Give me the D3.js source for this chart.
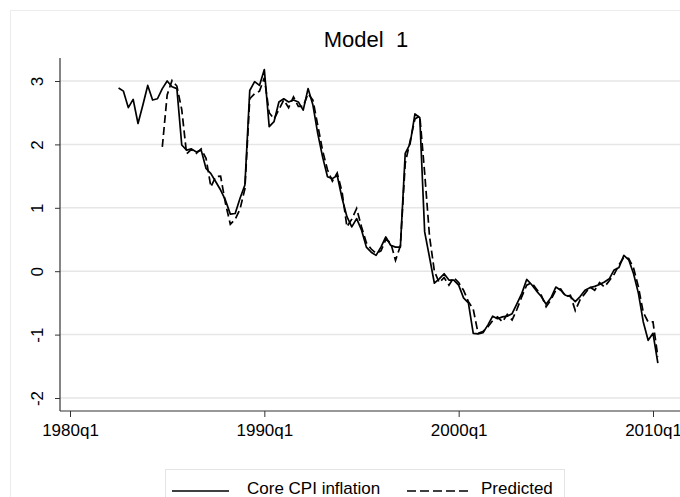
<!DOCTYPE html>
<html>
<head>
<meta charset="utf-8">
<script src="https://cdn.jsdelivr.net/npm/d3@7"></script>
<style>
  body { margin: 0; background: #fff; }
  svg { display: block; font-family: "Liberation Sans", Arial, sans-serif; }
</style>
</head>
<body>
<div id="chart"></div>
<script>
// quarterly series, first value at the given quarter
const actualStart = "1982q3";
const actual = [
  2.89, 2.84, 2.58, 2.71, 2.33, 2.62, 2.93, 2.70, 2.72, 2.88,
  3.00, 2.91, 2.88, 1.99, 1.91, 1.93, 1.88, 1.91, 1.62, 1.54,
  1.41, 1.28, 1.12, 0.90, 0.91, 1.15, 1.36, 2.85, 2.99, 2.93,
  3.18, 2.28, 2.36, 2.67, 2.72, 2.67, 2.70, 2.67, 2.54, 2.88,
  2.62, 2.17, 1.80, 1.49, 1.46, 1.51, 1.15, 0.86, 0.70, 0.83,
  0.65, 0.38, 0.30, 0.25, 0.38, 0.54, 0.41, 0.38, 0.38, 1.86,
  2.01, 2.48, 2.42, 0.62, 0.22, -0.19, -0.12, -0.04, -0.14, -0.14,
  -0.22, -0.42, -0.50, -0.98, -0.99, -0.97, -0.85, -0.71, -0.75, -0.72,
  -0.71, -0.67, -0.51, -0.35, -0.13, -0.21, -0.31, -0.40, -0.52, -0.42,
  -0.25, -0.30, -0.38, -0.40, -0.48, -0.40, -0.30, -0.26, -0.24, -0.21,
  -0.17, -0.12, 0.02, 0.06, 0.25, 0.18, -0.04, -0.35, -0.80, -1.09,
  -0.98, -1.45
];
const predictedStart = "1984q4";
const predicted = [
  1.96, 2.78, 3.01, 2.92, 2.55, 1.85, 1.92, 1.86, 1.93, 1.78,
  1.33, 1.49, 1.50, 1.07, 0.74, 0.82, 0.98, 1.30, 2.72, 2.80,
  2.84, 3.05, 2.50, 2.40, 2.55, 2.70, 2.58, 2.75, 2.60, 2.60,
  2.80, 2.70, 2.30, 1.90, 1.60, 1.42, 1.55, 1.25, 0.70, 0.82,
  0.99, 0.70, 0.45, 0.35, 0.28, 0.32, 0.50, 0.45, 0.17, 0.40,
  1.70, 2.05, 2.40, 2.45, 1.55, 0.55, 0.00, -0.18, -0.10, -0.22,
  -0.10, -0.18, -0.30, -0.48, -0.60, -0.98, -0.95, -0.88, -0.78, -0.72,
  -0.80, -0.68, -0.77, -0.60, -0.40, -0.22, -0.18, -0.28, -0.38, -0.56,
  -0.45, -0.30, -0.28, -0.40, -0.38, -0.62, -0.45, -0.35, -0.25, -0.30,
  -0.18, -0.25, -0.15, -0.05, 0.10, 0.22, 0.20, 0.05, -0.25, -0.65,
  -0.80, -0.80, -1.35
];
const xTickLabels = ["1980q1", "1990q1", "2000q1", "2010q1"];
const yTickValues = [-2, -1, 0, 1, 2, 3];
const seriesNames = ["Core CPI inflation", "Predicted"];
const chartTitle = "Model\u00a0\u00a01";

// quarter string -> running quarter number
function qnum(s) {
  const [y, q] = s.split("q");
  return (+y) * 4 + (+q - 1);
}
function toPoints(start, vals) {
  const s = qnum(start);
  return vals.map((v, i) => ({ t: s + i, v: v }));
}

const W = 680, H = 497;
const svg = d3.select("#chart").append("svg")
  .attr("width", W).attr("height", H);

// faint outer frame of the graph region
svg.append("rect")
  .attr("x", 10.5).attr("y", 10.5)
  .attr("width", 720).attr("height", 540)
  .attr("fill", "none").attr("stroke", "#ececec");

const plot = { left: 60, top: 58, bottom: 411 };

const x = d3.scaleLinear()
  .domain([qnum("1980q1"), qnum("2010q1")])
  .range([70, 653]);
const y = d3.scaleLinear()
  .domain([-2, 3])
  .range([398, 81]);

// grid
svg.append("g").selectAll("line")
  .data(yTickValues)
  .enter().append("line")
    .attr("x1", plot.left).attr("x2", W)
    .attr("y1", d => y(d)).attr("y2", d => y(d))
    .attr("stroke", "#e6e6e6").attr("stroke-width", 1.5);

// y axis (plain hyphen for negatives, like the original)
const yAxis = svg.append("g")
  .attr("transform", "translate(" + plot.left + ",0)")
  .call(d3.axisLeft(y).tickValues(yTickValues).tickSize(5).tickFormat(d => String(d)));
yAxis.select(".domain").remove();
yAxis.append("line")
  .attr("x1", 0).attr("x2", 0)
  .attr("y1", plot.top).attr("y2", plot.bottom)
  .attr("stroke", "#333").attr("stroke-width", 1.2);
yAxis.selectAll(".tick line").attr("stroke", "#333");
yAxis.selectAll(".tick text")
  .attr("fill", "#000")
  .style("font-size", "17px")
  .attr("text-anchor", "middle")
  .attr("x", 0).attr("y", 0).attr("dy", null)
  .attr("transform", "translate(-17,0) rotate(-90)");

// x axis
const xTicks = xTickLabels.map(qnum);
const xAxis = svg.append("g")
  .attr("transform", "translate(0," + plot.bottom + ")")
  .call(d3.axisBottom(x).tickValues(xTicks).tickSize(6).tickPadding(7)
    .tickFormat((d, i) => xTickLabels[i]));
xAxis.select(".domain").remove();
xAxis.append("line")
  .attr("x1", plot.left).attr("x2", W)
  .attr("y1", 0).attr("y2", 0)
  .attr("stroke", "#333").attr("stroke-width", 1.2);
xAxis.selectAll(".tick line").attr("stroke", "#333");
xAxis.selectAll(".tick text").attr("fill", "#000").style("font-size", "17px");

// lines
const line = d3.line().x(d => x(d.t)).y(d => y(d.v));
svg.append("path")
  .datum(toPoints(actualStart, actual))
  .attr("d", line)
  .attr("fill", "none").attr("stroke", "#000").attr("stroke-width", 1.7)
  .attr("stroke-linejoin", "round");
svg.append("path")
  .datum(toPoints(predictedStart, predicted))
  .attr("d", line)
  .attr("fill", "none").attr("stroke", "#000").attr("stroke-width", 1.7)
  .attr("stroke-dasharray", "8,4");

// title
svg.append("text")
  .attr("x", 366).attr("y", 47)
  .attr("text-anchor", "middle")
  .style("font-size", "22px")
  .text(chartTitle);

// legend
const lg = svg.append("g");
lg.append("rect")
  .attr("x", 165.5).attr("y", 469.5)
  .attr("width", 399).attr("height", 42)
  .attr("fill", "#fff").attr("stroke", "#e4e4e4");
const legendItems = [
  { name: seriesNames[0], x1: 172, x2: 229, tx: 247, dash: null },
  { name: seriesNames[1], x1: 407, x2: 471, tx: 481, dash: "9,4" }
];
legendItems.forEach(it => {
  lg.append("line")
    .attr("x1", it.x1).attr("x2", it.x2)
    .attr("y1", 491).attr("y2", 491)
    .attr("stroke", "#000").attr("stroke-width", 1.7)
    .attr("stroke-dasharray", it.dash);
  lg.append("text")
    .attr("x", it.tx).attr("y", 494)
    .style("font-size", "17px")
    .text(it.name);
});
</script>
</body>
</html>
